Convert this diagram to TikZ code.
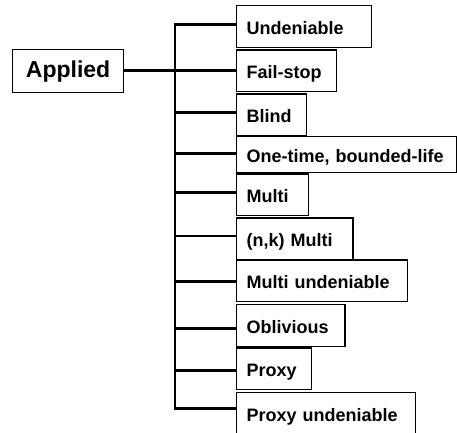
\documentclass[tikz,border=0pt]{standalone}
\usepackage{fontspec}
\setmainfont{Liberation Sans}
\begin{document}
\begin{tikzpicture}[x=1pt,y=-1pt,
  leaf/.style={draw, line width=1.2pt, anchor=north west, inner xsep=10pt,
    inner ysep=0pt, align=left, text height=17pt, text depth=1pt,
    font=\bfseries\fontsize{18}{20}\selectfont},
  rootbox/.style={draw, line width=1.2pt, anchor=north west, inner xsep=0pt,
    inner ysep=0pt, align=center, minimum width=111pt, minimum height=43pt,
    font=\bfseries\fontsize{23}{26}\selectfont},
  branch/.style={line width=2.8pt, line join=miter}]
\useasboundingbox (0,0) rectangle (457,432);
\clip (0,0) rectangle (457,432);

% root
\node[rootbox] (root) at (12,49) {Applied};

% leaves: name, top edge, width, height, text
\newcommand{\leafbox}[5]{%
  \node[leaf, text width=#3-20pt, minimum height=#4] (#1) at (236,#2) {#5};}
\leafbox{b1}{5}{134.7pt}{41.7pt}{Undeniable}
\leafbox{b2}{49.3}{99.7pt}{41.4pt}{Fail-stop}
\leafbox{b3}{93.3}{70pt}{41.7pt}{Blind}
\leafbox{b4}{135.7}{220pt}{36pt}{One-time, bounded-life}
\leafbox{b5}{173.3}{72pt}{41.7pt}{Multi}
\leafbox{b6}{217.3}{116.3pt}{42pt}{(n,k) Multi}
\leafbox{b7}{259.3}{170.7pt}{41.7pt}{Multi undeniable}
\leafbox{b8}{304}{108.3pt}{41.7pt}{Oblivious}
\leafbox{b9}{347.3}{74.7pt}{41.7pt}{Proxy}
\leafbox{b10}{391.7}{179pt}{41.7pt}{Proxy undeniable}

% points on the vertical trunk
\coordinate (t1) at (175,24.3);
\coordinate (t2) at (175,70.3);
\coordinate (t3) at (175,112.3);
\coordinate (t4) at (175,153.3);
\coordinate (t5) at (175,192.7);
\coordinate (t6) at (175,236);
\coordinate (t7) at (175,281.7);
\coordinate (t8) at (175,328.3);
\coordinate (t9) at (175,370.7);
\coordinate (t10) at (175,408.3);

% trunk with the first and last branches
\draw[branch] (t1 -| b1.west) -- (t1) -- (t10) -- (t10 -| b10.west);
% root link
\draw[branch] (root.east |- t2) -- (t2);
% remaining branches
\foreach \i in {2,...,9}
  \draw[branch] (t\i) -- (t\i -| b\i.west);
\end{tikzpicture}
\end{document}
